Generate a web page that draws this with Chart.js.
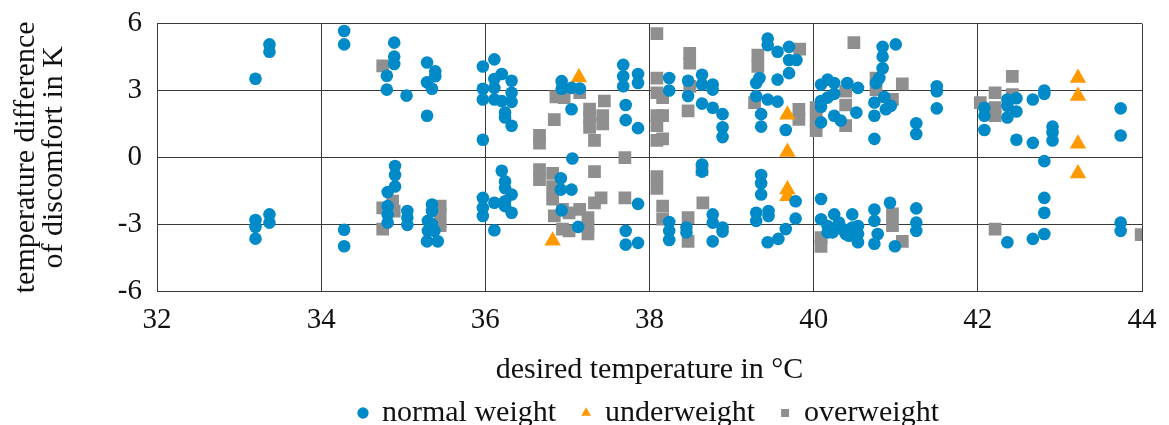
<!DOCTYPE html>
<html>
<head>
<meta charset="utf-8">
<script src="https://cdn.jsdelivr.net/npm/chart.js@4/dist/chart.umd.min.js"></script>
<style>
  html, body { margin: 0; padding: 0; background: #fff; }
  #wrap { width: 1169px; height: 425px; }
</style>
</head>
<body>
<div id="wrap"><canvas id="chart"></canvas></div>
<script>
// desired temperature (°C) / temperature difference of discomfort (K)
const normalX = [
  33.2, 33.2, 33.2, 33.2, 33.37, 33.37, 33.37, 33.37,
  34.28, 34.28, 34.28, 34.28,
  34.89, 34.89, 34.89, 34.8, 34.8, 35.04, 34.9, 34.9, 34.9, 34.81, 34.81, 34.81, 34.81, 35.05, 35.05, 35.05,
  35.29, 35.39, 35.39, 35.29, 35.35, 35.29, 35.35, 35.35, 35.3, 35.35, 35.3, 35.38, 35.29, 35.42,
  36.11, 35.97, 36.2, 36.11, 36.32, 36.11, 35.97, 36.32, 35.97, 36.11, 36.2, 36.32, 36.24, 36.24, 36.32, 35.97,
  36.2, 36.24, 36.24, 36.32, 35.97, 36.11, 36.24, 35.97, 36.32, 35.97, 36.24, 36.11,
  36.93, 36.93, 37.05, 37.15, 37.05, 37.06, 36.92, 36.92, 37.05, 36.93, 37.13,
  37.68, 37.68, 37.86, 37.68, 37.86, 37.71, 37.71, 37.86, 37.86, 37.71, 37.71, 37.86,
  38.24, 38.24, 38.24, 38.24, 38.24, 38.47, 38.47, 38.45, 38.45,
  38.64, 38.64, 38.77, 38.77, 38.64, 38.77, 38.89, 38.89, 38.89, 38.64, 38.64, 38.77, 38.77, 38.89, 38.89, 38.77,
  39.44, 39.44, 39.56, 39.7, 39.7, 39.79, 39.7, 39.56, 39.34, 39.3, 39.3, 39.44, 39.56, 39.36, 39.36, 39.66,
  39.36, 39.36, 39.36, 39.3, 39.3, 39.45, 39.45, 39.78, 39.78, 39.66, 39.57, 39.44,
  40.09, 40.09, 40.17, 40.25, 40.17, 40.25, 40.09, 40.09, 40.25, 40.33, 40.41, 40.54, 40.52,
  40.84, 41.0, 40.84, 40.84, 40.8, 40.76, 40.86, 40.94, 40.74, 40.74, 40.74, 40.88,
  40.09, 40.09, 40.25, 40.17, 40.17, 40.31, 40.35, 40.39, 40.47, 40.47, 40.54, 40.54, 40.54, 40.23, 40.43,
  40.74, 40.74, 40.78, 40.74, 40.93, 40.99,
  41.25, 41.25, 41.5, 41.5, 41.5, 41.25, 41.25, 41.25,
  42.36, 42.36, 42.47, 42.47, 42.36, 42.08, 42.08, 42.08, 42.67, 42.81, 42.81, 42.91, 42.91, 42.91, 42.47, 42.67,
  42.81, 42.81, 42.81, 42.81, 42.67, 42.36,
  43.74, 43.74, 43.74, 43.74
];
const normalY = [
  3.53, -2.81, -3.12, -3.65, 5.07, 4.74, -2.56, -2.93,
  5.67, 5.07, -3.25, -3.99,
  5.15, 4.52, 4.19, 3.66, 3.04, 2.77, -0.39, -0.79, -1.31, -1.56, -2.19, -2.56, -2.93, -2.41, -2.71, -3.03,
  4.26, 3.86, 3.64, 3.37, 3.08, 1.87, -2.12, -2.41, -2.85, -3.0, -3.3, -3.3, -3.77, -3.77,
  4.4, 4.08, 3.74, 3.52, 3.44, 3.12, 3.08, 2.9, 2.6, 2.6, 2.53, 2.49, 2.01, 1.79, 1.42, 0.79,
  -0.6, -1.08, -1.38, -1.67, -1.82, -2.04, -1.97, -2.27, -2.49, -2.63, -2.19, -3.27,
  3.42, 3.08, 3.12, 3.09, 2.16, -0.05, -0.94, -1.45, -1.45, -2.38, -3.12,
  4.15, 3.64, 3.74, 3.19, 3.34, 2.35, 1.67, 1.31, -2.09, -3.3, -3.92, -3.84,
  3.56, 3.0, -2.9, -3.3, -3.71, 3.44, 2.75, -3.15, -3.37,
  3.71, 3.27, 3.27, 3.04, 2.41, 2.23, 1.94, 1.35, 0.91, -0.32, -0.64, -2.56, -2.93, -3.15, -3.33, -3.77,
  5.33, 5.04, 4.74, 4.96, 4.37, 4.37, 3.78, 3.49, 3.56, 3.34, 2.75, 2.6, 2.5, 1.94, 1.38, 1.23,
  -0.79, -1.16, -1.67, -2.49, -2.85, -2.41, -2.63, -1.97, -2.75, -3.22, -3.66, -3.81,
  3.27, 2.53, 3.49, 3.34, 2.68, 2.85, 2.27, 1.57, 1.87, 1.65, 3.34, 3.12, 2.01,
  4.96, 5.07, 4.52, 4.0, 3.56, 3.34, 2.71, 2.31, 2.46, 1.87, 0.83, 2.16,
  -1.87, -2.78, -2.56, -3.08, -3.37, -2.93, -3.22, -3.44, -2.56, -3.15, -3.08, -3.44, -3.81, -3.37, -3.52,
  -2.34, -2.85, -3.44, -3.88, -2.04, -3.99,
  1.53, 1.05, 3.19, 2.97, 2.2, -2.29, -2.93, -3.3,
  2.6, 2.31, 2.65, 2.06, 1.79, 2.23, 1.87, 1.23, 2.6, 3.0, 2.85, 1.38, 1.13, 0.76, 0.79, 0.65,
  -0.17, -1.82, -2.49, -3.44, -3.66, -3.81,
  2.2, 0.98, -2.93, -3.3
];
const underX = [37.14, 36.82, 39.68, 39.68, 39.68, 39.68, 43.22, 43.22, 43.22, 43.22];
const underY = [3.59, -3.74, 1.91, 0.24, -1.44, -1.75, 3.56, 2.75, 0.61, -0.72];
const overX = [
  34.75, 34.75, 34.87, 34.89, 34.75, 35.45, 35.45, 35.45,
  36.86, 36.96, 36.84, 36.66, 36.66, 37.15, 37.45, 37.27, 37.43, 37.27, 37.27, 37.43, 37.33, 37.7,
  38.09, 38.09, 38.09, 38.16, 38.09, 38.16, 38.09, 38.09, 38.16, 38.49, 38.49, 38.49, 38.47,
  36.66, 36.66, 36.82, 36.82, 36.82, 36.84, 36.94, 36.94, 37.02, 37.02,
  37.33, 37.41, 37.33, 37.15, 37.25, 37.25, 37.25, 37.7,
  38.09, 38.09, 38.16, 38.16, 38.47, 38.47, 38.64, 38.65,
  39.32, 39.32, 39.28, 39.83, 39.82, 39.82, 40.03, 40.03, 40.03, 40.39, 40.39, 40.39, 40.49,
  40.76, 40.76, 40.96, 41.08, 40.09, 40.09, 40.96, 40.96, 41.08,
  42.42, 42.21, 42.03, 42.21, 42.21, 42.42, 42.21, 43.99
];
const overY = [
  4.11, -2.27, -1.97, -2.41, -3.22, -2.19, -2.54, -3.07,
  2.72, 2.68, 1.69, 0.99, 0.64, 2.9, 2.53, 2.16, 1.87, 1.79, 1.35, 1.5, 0.76, -0.01,
  5.55, 3.56, 2.9, 2.68, 1.87, 1.87, 1.42, 0.76, 0.83, 4.67, 4.23, 3.19, 2.09,
  -0.55, -1.0, -0.72, -1.31, -1.88, -2.63, -2.34, -3.22, -2.49, -3.3,
  -0.64, -1.82, -2.04, -2.34, -2.71, -3.12, -3.44, -1.82,
  -0.86, -1.39, -2.19, -2.77, -2.71, -3.77, -0.55, -2.04,
  4.59, 4.08, 2.46, 4.86, 2.15, 1.7, 2.23, 1.7, 1.2, 2.97, 2.35, 1.42, 5.15,
  3.56, 3.04, 2.6, 3.3, -3.6, -4.0, -2.54, -3.07, -3.77,
  3.64, 2.9, 2.46, 2.23, 1.87, 2.82, -3.22, -3.47
];
const xTicks = [32, 34, 36, 38, 40, 42, 44];
const yTicks = [-6, -3, 0, 3, 6];

const toPoints = (xs, ys) => xs.map((x, i) => ({ x: x, y: ys[i] }));

const FONT = 'Liberation Serif';
const TXT = '#111';
const GRID = '#3a3a3a';

// put the legend row where the reference has it: lower, and centred on the plot
const legendPlace = {
  id: 'legendPlace',
  afterLayout(chart) {
    const lg = chart.legend;
    const h = lg.bottom - lg.top;
    lg.top = 372;
    lg.bottom = lg.top + h;
    lg.left += 78;
    lg.right += 78;
  }
};

new Chart(document.getElementById('chart'), {
  type: 'scatter',
  data: {
    datasets: [{
      label: 'normal weight',
      data: toPoints(normalX, normalY),
      pointStyle: 'circle',
      pointRadius: 6.3,
      backgroundColor: 'rgb(0, 138, 200)',
      borderWidth: 0
    }, {
      label: 'underweight',
      data: toPoints(underX, underY),
      pointStyle: 'triangle',
      pointRadius: 9.5,
      backgroundColor: 'rgb(255, 153, 0)',
      borderWidth: 0
    }, {
      label: 'overweight',
      data: toPoints(overX, overY),
      pointStyle: 'rect',
      pointRadius: 9,
      backgroundColor: 'rgb(143, 143, 143)',
      borderWidth: 0
    }]
  },
  options: {
    responsive: true,
    maintainAspectRatio: false,
    animation: false,
    layout: { padding: { top: 20, right: 27, bottom: 0, left: 0 } },
    plugins: {
      tooltip: { enabled: false },
      legend: {
        position: 'bottom',
        labels: {
          usePointStyle: true,
          boxWidth: 8,
          boxHeight: 8,
          padding: 26,
          color: TXT,
          font: { family: FONT, size: 30 }
        }
      }
    },
    scales: {
      x: {
        type: 'linear',
        min: 32,
        max: 44,
        afterBuildTicks: (scale) => { scale.ticks = xTicks.map(v => ({ value: v })) },
        afterFit: (scale) => { scale.height = 134 - scale.chart.legend.height },
        ticks: { padding: 12, color: TXT, font: { family: FONT, size: 29 } },
        grid: { color: GRID, lineWidth: 1, drawTicks: false },
        border: { color: GRID, width: 1 },
        title: {
          display: true,
          text: 'desired temperature in °C',
          color: TXT,
          padding: { top: 0, bottom: -26 },
          font: { family: FONT, size: 30, lineHeight: 1 }
        }
      },
      y: {
        min: -6,
        max: 6,
        afterBuildTicks: (scale) => { scale.ticks = yTicks.map(v => ({ value: v })) },
        afterFit: (scale) => { scale.width = 157 },
        ticks: { padding: 15, color: TXT, font: { family: FONT, size: 29, lineHeight: 0.6 } },
        grid: { color: GRID, lineWidth: 1, drawTicks: false },
        border: { color: GRID, width: 1 },
        title: {
          display: true,
          text: ['temperature difference', 'of discomfort in K'],
          color: TXT,
          padding: { top: 12, bottom: 0 },
          font: { family: FONT, size: 30, lineHeight: 0.93 }
        }
      }
    }
  },
  plugins: [legendPlace]
});
</script>
</body>
</html>
